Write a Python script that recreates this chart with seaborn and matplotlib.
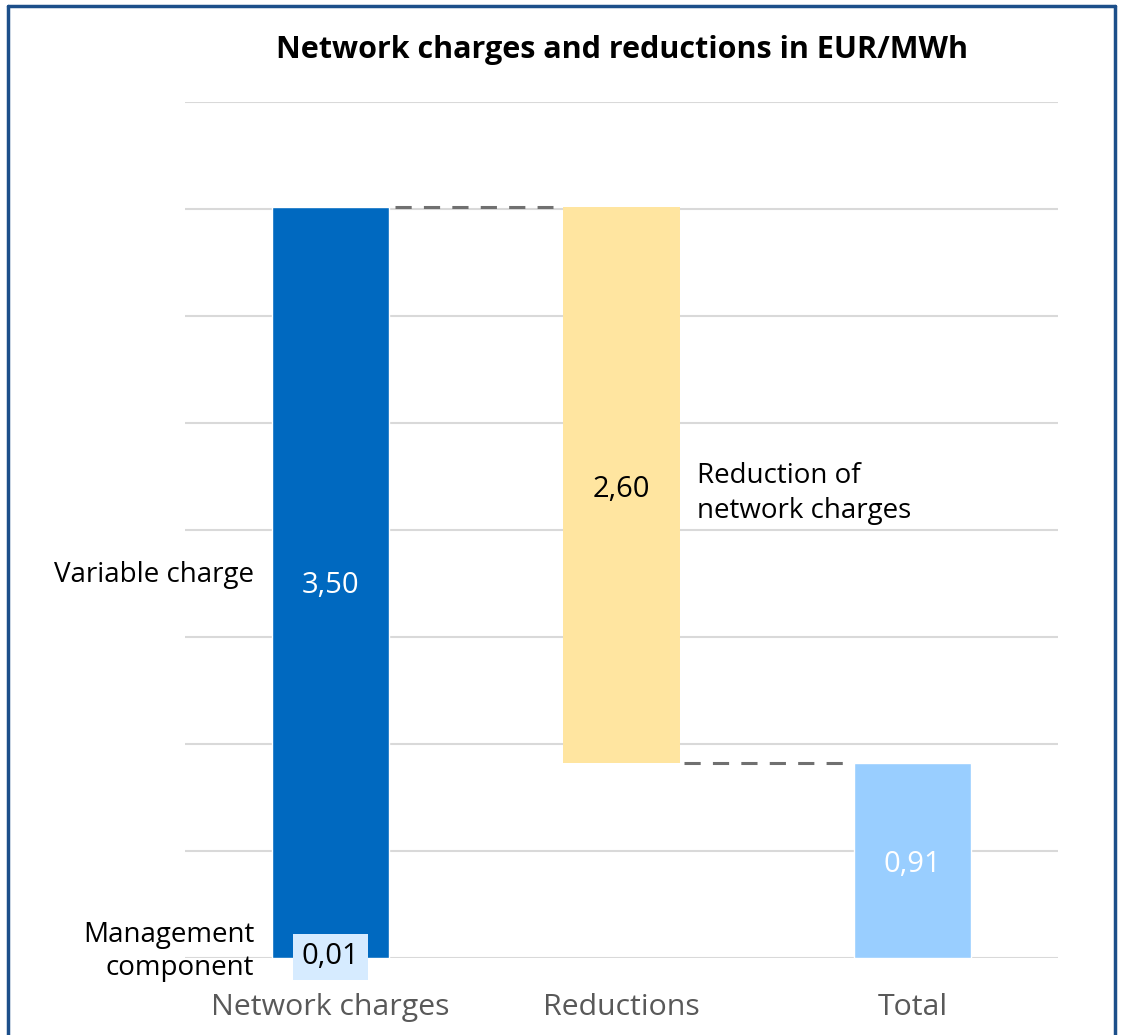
import matplotlib
matplotlib.use("Agg")
import matplotlib.pyplot as plt
from matplotlib.lines import Line2D
from matplotlib.transforms import offset_copy
import numpy as np
import pandas as pd
import seaborn as sns

# Waterfall data (EUR/MWh)
categories = ["Network charges", "Reductions", "Total"]
management_component = 0.01
variable_charge = 3.50
reduction = 2.60
total = 0.91

network_total = management_component + variable_charge
reduction_bottom = network_total - reduction

bar_colors = {"Network charges": "#0069C0", "Reductions": "#FFE5A0", "Total": "#99CEFF"}

sns.set_theme(style="white")
plt.rcParams["font.family"] = ["Open Sans", "DejaVu Sans"]

fig = plt.figure(figsize=(11.22, 10.35), dpi=100)
ax = fig.add_axes([185 / 1122, 1 - 958 / 1035, (1058 - 185) / 1122, (958 - 102) / 1035])

# Grounded bars through seaborn, floating reduction bar on the same categorical axis
grounded = pd.DataFrame({"category": ["Network charges", "Total"],
                         "value": [network_total, total]})
sns.barplot(data=grounded, x="category", y="value", hue="category", order=categories,
            palette=bar_colors, width=0.4, legend=False, ax=ax, saturation=1)
ax.bar(1, reduction, bottom=reduction_bottom, width=0.4,
       color=bar_colors["Reductions"], linewidth=0)

ax.set_xlim(-0.5, 2.5)
ax.set_ylim(0, 4)
ax.set_yticks(np.arange(0, 4.01, 0.5))
ax.set_yticklabels([])
ax.yaxis.grid(True, color="#D9D9D9", linewidth=1.5)
ax.set_axisbelow(True)
for s in ax.spines.values():
    s.set_visible(False)
ax.set_xlabel("")
ax.set_ylabel("")
ax.tick_params(axis="x", length=0, pad=25, labelcolor="#595959", labelsize=21.8)
ax.tick_params(axis="y", length=0)

# Connector lines between steps
dash = dict(color="#707070", linewidth=2.2, dashes=(5.3, 4), zorder=3)
ax.plot([0.22, 0.765], [network_total, network_total], **dash)
ax.plot([1.215, 1.76], [reduction_bottom, reduction_bottom], **dash)

# Value labels, nudged slightly below the segment middle
down = offset_copy(ax.transData, fig=fig, y=-4, units="dots")
lab = dict(ha="center", va="center", fontsize=21, transform=down)
ax.text(0, management_component + variable_charge / 2, f"{variable_charge:.2f}".replace(".", ","),
        color="white", **lab)
ax.text(1, reduction_bottom + reduction / 2, f"{reduction:.2f}".replace(".", ","),
        color="black", **lab)
ax.text(2, total / 2, f"{total:.2f}".replace(".", ","), color="white", **lab)
ax.text(0, management_component / 2, f"{management_component:.2f}".replace(".", ","),
        color="black", zorder=5,
        bbox=dict(boxstyle="square,pad=0.3", facecolor="#D6EBFF", edgecolor="none"),
        ha="center", va="center", fontsize=21)

# Segment annotations
ax.text(-0.262, 1.79, "Variable charge",
        ha="right", va="center", fontsize=20, color="black")
ax.text(-0.262, 0.03, "Management\ncomponent",
        ha="right", va="center", fontsize=20, color="black", linespacing=1.22)
ax.text(1.26, 2.17, "Reduction of\nnetwork charges",
        ha="left", va="center", fontsize=20, color="black", linespacing=1.3)

fig.text(621.5 / 1122, 1 - 50 / 1035, "Network charges and reductions in EUR/MWh",
         ha="center", va="center", fontsize=22, fontweight="bold", color="black")

# Frame around the chart
frame = dict(color="#1C4F8A", linewidth=2.5, transform=fig.transFigure)
fig.add_artist(Line2D([8 / 1122, 8 / 1122], [0, 1 - 6 / 1035], **frame))
fig.add_artist(Line2D([8 / 1122, 1115 / 1122], [1 - 6 / 1035, 1 - 6 / 1035], **frame))
fig.add_artist(Line2D([1115 / 1122, 1115 / 1122], [0, 1 - 6 / 1035], **frame))

fig.savefig("out.png", dpi=100, facecolor="white")
